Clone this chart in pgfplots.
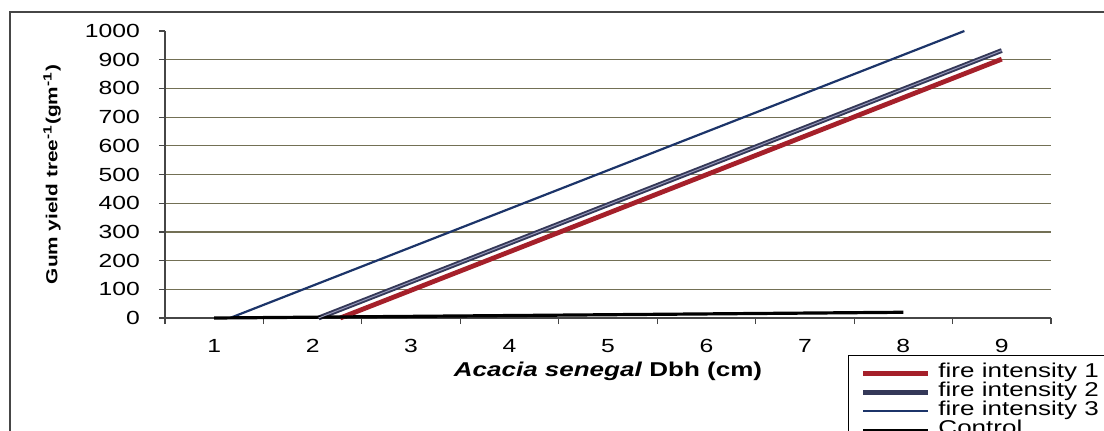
\documentclass[border=0pt]{standalone}
\usepackage{fontspec}
\setmainfont{Liberation Sans}[FakeStretch=1.3]
\usepackage{pgfplots}
\pgfplotsset{compat=1.18}
\definecolor{fione}{RGB}{165,32,42}
\definecolor{fitwo}{RGB}{52,56,88}
\definecolor{fitwol}{RGB}{150,152,185}
\definecolor{fithree}{RGB}{28,52,105}
\definecolor{gridc}{RGB}{115,112,85}
\definecolor{axc}{RGB}{70,70,70}

\begin{document}
\begin{tikzpicture}
\begin{axis}[
  scale only axis, width=443pt, height=143.5pt,
  xmin=0.5, xmax=9.5, ymin=0, ymax=1000,
  clip=false,
  axis x line*=bottom, axis y line*=left,
  axis line style={axc,line width=0.6pt},
  tick align=outside,
  xtick={1,...,9},
  minor xtick={0.5,1.5,...,9.5},
  major x tick style={draw=none},
  minor tick length=3pt, major tick length=3pt,
  ytick={0,100,...,900}, extra y ticks={1000}, extra y tick style={grid=none},
  ymajorgrids, grid style={gridc,line width=0.6pt},
  tick style={axc,line width=0.6pt},
  /pgf/number format/assume math mode=true,
  /pgf/number format/1000 sep={},
  tick label style={font=\fontsize{9.5}{11}\selectfont},
  yticklabel style={xshift=-6pt},
  xticklabel style={yshift=-4pt},
  xlabel={\textbf{\textit{Acacia senegal}} \textbf{Dbh (cm)}},
  xlabel style={at={(axis description cs:0.5,-0.185)},anchor=center,font=\fontsize{10}{12}\selectfont},
  ylabel={\textbf{Gum yield tree\textsuperscript{-1}(gm\textsuperscript{-1})}},
  ylabel style={at={(axis description cs:-0.1275,0.5)},anchor=center,font=\fontsize{8}{10}\selectfont},
  legend style={at={(axis description cs:0.771,-0.129)}, anchor=north west,
    draw=black, line width=0.6pt, fill=white, inner xsep=6pt, inner ysep=4pt,
    row sep=0pt, font=\fontsize{10}{11}\selectfont,
    nodes={inner sep=0pt, text height=7pt, text depth=2.5pt, anchor=west},
    /tikz/every odd column/.append style={column sep=4pt}},
  legend image code/.code={\draw[#1] (0pt,0pt) -- (32.5pt,0pt);},
  legend cell align=left,
]
\addplot[fione, line width=2.4pt] coordinates {(2.28,0) (9,902)};
\addlegendentry{fire intensity 1}
\addplot[fitwo, line width=2.4pt] coordinates {(2.06,0) (9,932)};
\addlegendentry{fire intensity 2}
\addplot[fithree, line width=1.1pt] coordinates {(1.16,0) (8.62,1000)};
\addlegendentry{fire intensity 3}
\addplot[black, line width=1.6pt] coordinates {(1,0) (8,20)};
\addlegendentry{Control}
\addplot[forget plot, fitwol, line width=0.5pt] coordinates {(2.06,0) (9,932)};
\end{axis}
\draw[axc, line width=0.8pt] (-77.5pt,-61pt) rectangle (472.5pt,153pt);
\pgfresetboundingbox
\path[use as bounding box] (-82.5pt,-56pt) rectangle (469.5pt,159pt);
\end{tikzpicture}
\end{document}
